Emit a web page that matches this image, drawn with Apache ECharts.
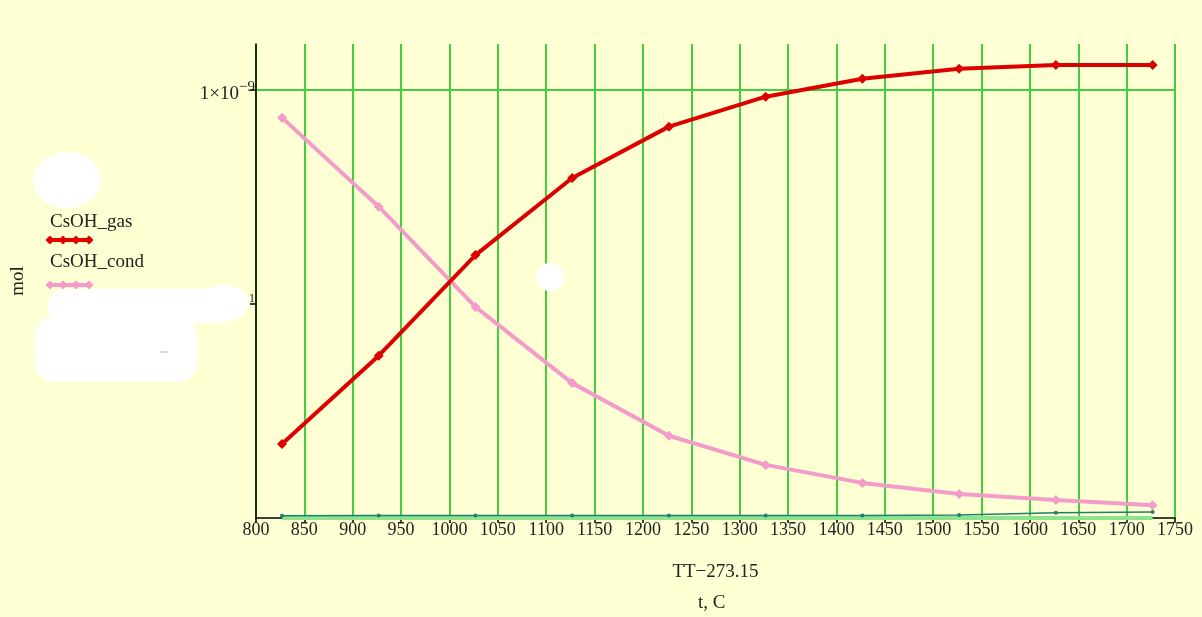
<!DOCTYPE html>
<html>
<head>
<meta charset="utf-8">
<script src="https://cdn.jsdelivr.net/npm/echarts@6/dist/echarts.min.js"></script>
<style>
html,body{margin:0;padding:0;background:#ffffd4;}
#c{width:1202px;height:617px;}
</style>
</head>
<body>
<div id="c"></div>
<script>
// Data (temperatures in °C, amounts in mol)
var tempC = [826.85, 926.85, 1026.85, 1126.85, 1226.85, 1326.85, 1426.85, 1526.85, 1626.85, 1726.85];
var csohGas = [0.173e-9, 0.379e-9, 0.614e-9, 0.794e-9, 0.914e-9, 0.984e-9, 1.026e-9, 1.049e-9, 1.058e-9, 1.058e-9];
var csohCond = [0.935e-9, 0.727e-9, 0.493e-9, 0.315e-9, 0.192e-9, 0.124e-9, 0.082e-9, 0.056e-9, 0.042e-9, 0.030e-9];
var hiddenA = [0, 0, 0, 0, 0, 0, 0, 0, 0, 0];
var hiddenB = [0.005e-9, 0.006e-9, 0.006e-9, 0.006e-9, 0.006e-9, 0.006e-9, 0.006e-9, 0.007e-9, 0.012e-9, 0.014e-9];
var xTicks = {min: 800, max: 1750, step: 50};
var yTicks = {min: 0, max: 1.107e-9, step: 5e-10};
var yTickMarks = [5e-10, 1e-9];

function pairs(ys){ return tempC.map(function(t,i){ return [t, ys[i]]; }); }

var SERIF = '"Liberation Serif", "DejaVu Serif", serif';
var GRID = '#3fcf3f';
var TXT = '#222';

var chart = echarts.init(document.getElementById('c'));
var legendDiamonds = function(y, color){
  var xs = [50, 63, 76, 89];
  var out = [{type:'line', shape:{x1:47,y1:y,x2:92,y2:y}, style:{stroke:color, lineWidth:4}}];
  xs.forEach(function(x){
    out.push({type:'polygon', shape:{points:[[x,y-4.5],[x+4.5,y],[x,y+4.5],[x-4.5,y]]}, style:{fill:color}});
  });
  return out;
};
var graphics = [
  {type:'text', left:50, top:213, style:{text:'CsOH_gas', font:'19px ' + SERIF, fill:TXT}},
  {type:'text', left:50, top:253, style:{text:'CsOH_cond', font:'19px ' + SERIF, fill:TXT}},
  {type:'text', left:46, top:196, style:{text:'- - -', font:'12px ' + SERIF, fill:'#999'}},
  {type:'text', left:698, top:594, style:{text:'t, C', font:'19px ' + SERIF, fill:TXT}},
  // white occluding blobs
  {type:'ellipse', shape:{cx:67, cy:180, rx:34, ry:28}, style:{fill:'#ffffff'}, z:100},
  {type:'circle', shape:{cx:550, cy:277, r:14}, style:{fill:'#ffffff'}, z:100},
  {type:'rect', shape:{x:48, y:289, width:185, height:34, r:16}, style:{fill:'#ffffff'}, z:100},
  {type:'ellipse', shape:{cx:224, cy:303, rx:25, ry:18}, style:{fill:'#ffffff'}, z:100},
  {type:'rect', shape:{x:35, y:316, width:162, height:66, r:20}, style:{fill:'#ffffff'}, z:100},
  {type:'line', shape:{x1:160, y1:352, x2:168, y2:352}, style:{stroke:'#bbb', lineWidth:1}, z:101}
].concat(legendDiamonds(240, '#e00000')).concat(legendDiamonds(285, '#f39bc9'));

chart.setOption({
  backgroundColor: '#ffffd4',
  animation: false,
  grid: {left: 256, right: 27, top: 44, bottom: 99, containLabel: false},
  xAxis: {
    type: 'value', min: xTicks.min, max: xTicks.max, interval: xTicks.step,
    name: 'TT\u2212273.15', nameLocation: 'middle', nameGap: 45,
    nameTextStyle: {fontFamily: SERIF, fontSize: 19, color: TXT},
    axisLine: {show: true, onZero: false, lineStyle: {color: '#000', width: 1.5}},
    axisTick: {show: true, length: 5, lineStyle: {color: '#000', width: 1.5}},
    axisLabel: {fontFamily: SERIF, fontSize: 18, color: TXT, margin: 3,
      formatter: function(v){ return String(v); }},
    splitLine: {show: true, lineStyle: {color: GRID, width: 2}}
  },
  yAxis: {
    type: 'value', min: yTicks.min, max: yTicks.max, interval: yTicks.step,
    name: 'mol', nameLocation: 'middle', nameRotate: 90, nameGap: 228,
    nameTextStyle: {fontFamily: SERIF, fontSize: 19, color: TXT},
    axisLine: {show: true, lineStyle: {color: '#000', width: 1.5}},
    axisTick: {show: true, length: 6, customValues: yTickMarks, lineStyle: {color: '#000', width: 1.5}},
    axisLabel: {
      fontFamily: SERIF, fontSize: 19, color: TXT, margin: 1,
      formatter: function(v){
        if (Math.abs(v - 1e-9) < 1e-14) return '{a|1\u00d710}{s|\u22129}';
        if (Math.abs(v - 5e-10) < 1e-14) return '{p|1}';
        return '';
      },
      rich: {
        a: {fontFamily: SERIF, fontSize: 19, color: TXT, padding: [8, 0, 0, 0]},
        s: {fontFamily: SERIF, fontSize: 15, color: TXT, padding: [0, 0, 6, 0]},
        p: {fontFamily: SERIF, fontSize: 12, color: TXT, padding: [0, 0, 10, 0]}
      }
    },
    splitLine: {show: true, lineStyle: {color: ['rgba(0,0,0,0)', GRID, GRID, 'rgba(0,0,0,0)'], width: 2}}
  },
  series: [
    {name: 'hiddenA', type: 'line', data: pairs(hiddenA), symbol: 'none',
     lineStyle: {color: '#8ee48e', width: 4}, z: 2},
    {name: 'hiddenB', type: 'line', data: pairs(hiddenB), symbol: 'circle', symbolSize: 4,
     itemStyle: {color: '#1f7f6a'}, lineStyle: {color: '#1f7f6a', width: 1.5}, z: 3},
    {name: 'CsOH_cond', type: 'line', data: pairs(csohCond), symbol: 'diamond', symbolSize: 10,
     itemStyle: {color: '#f39bc9'}, lineStyle: {color: '#f39bc9', width: 4}, z: 4},
    {name: 'CsOH_gas', type: 'line', data: pairs(csohGas), symbol: 'diamond', symbolSize: 10,
     itemStyle: {color: '#dd0000'}, lineStyle: {color: '#dd0000', width: 4}, z: 5}
  ],
  graphic: graphics
});
</script>
</body>
</html>
